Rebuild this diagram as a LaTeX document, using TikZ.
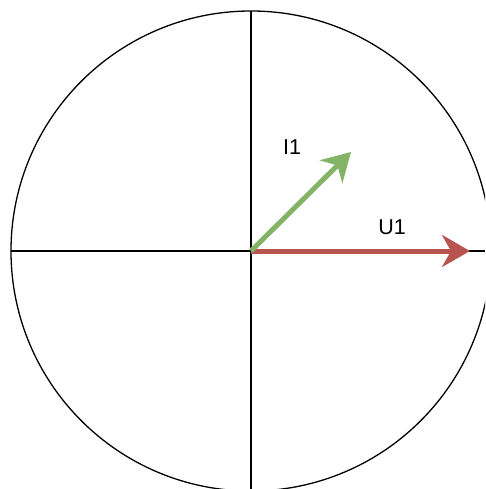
\documentclass[tikz,border=0pt]{standalone}
\usepackage{fontspec}
\setmainfont{Liberation Sans}
\usetikzlibrary{arrows.meta}
\definecolor{ured}{HTML}{B85450}
\definecolor{igreen}{HTML}{82B366}
\begin{document}
\begin{tikzpicture}[x=1pt,y=-1pt,
  axis/.style={black,line width=1.5pt},
  vec/.style={line width=5pt,-{Stealth[length=28pt,width=32pt,inset=9pt]}},
  lbl/.style={font=\fontsize{21.5}{25}\selectfont,inner sep=0pt}]
\useasboundingbox (0,0) rectangle (485,489);
\clip (0,0) rectangle (485,489);
\coordinate (O) at (251,251);
\coordinate (L) at (11,251);
\coordinate (R) at (485,251);
\coordinate (T) at (251,11);
\coordinate (B) at (251,489);
\draw[black,line width=1.3pt] (O) circle[radius=240];
\draw[axis] (L) -- (R);
\draw[axis] (T) -- (B);
\coordinate (Utip) at (470,251);
\coordinate (Itip) at (351,152);
\draw[vec,ured] (O) -- (Utip);
\draw[vec,igreen] (O) -- (Itip);
\node[lbl] (U1) at (392,227) {U1};
\node[lbl] (I1) at (292,147) {I1};
\end{tikzpicture}
\end{document}
